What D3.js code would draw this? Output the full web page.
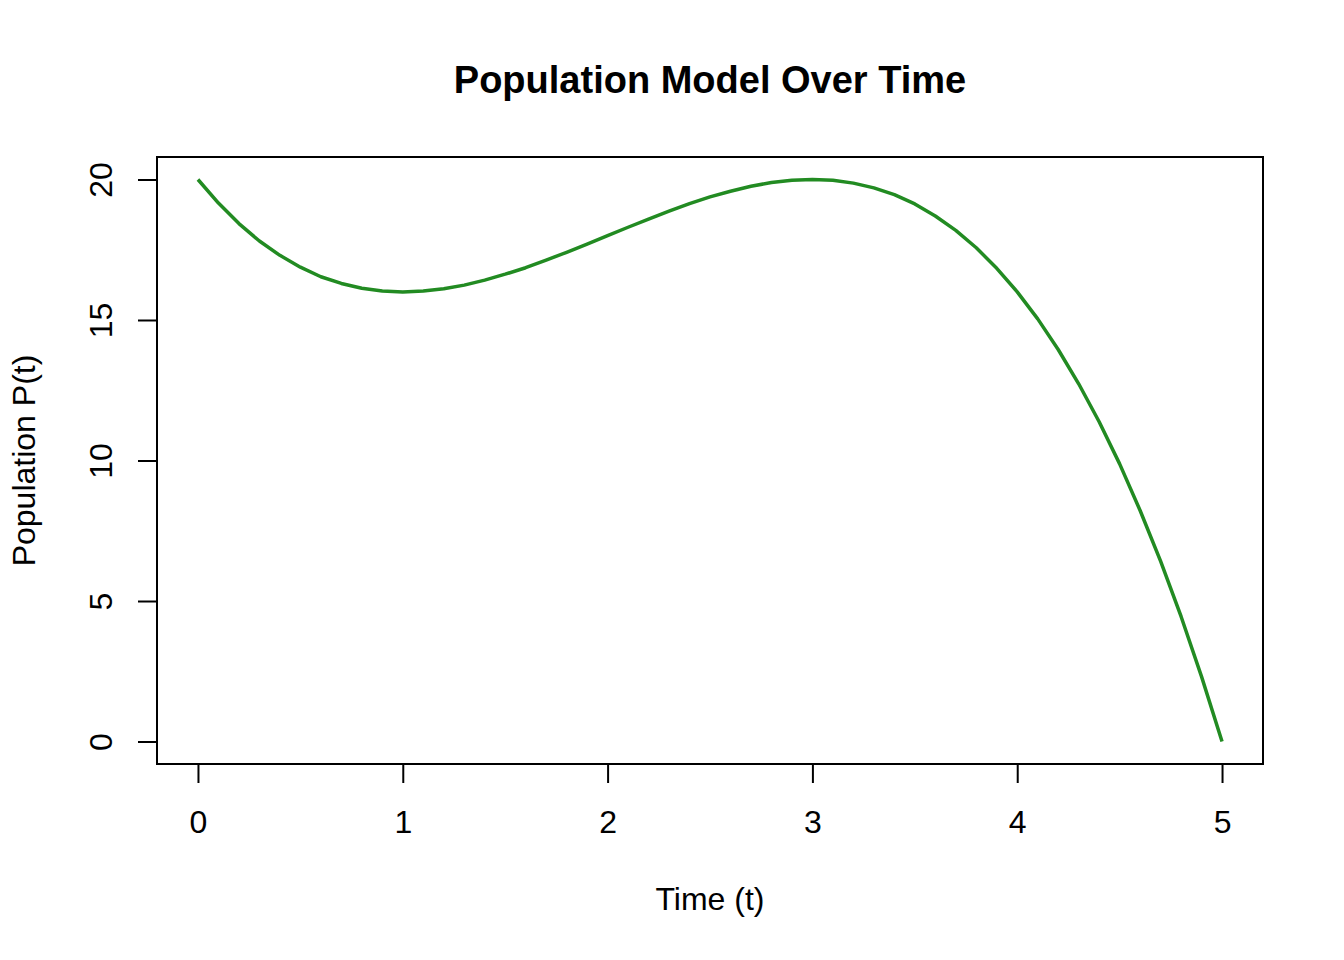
<!DOCTYPE html>
<html>
<head>
<meta charset="utf-8">
<script src="https://cdn.jsdelivr.net/npm/d3@7"></script>
<style>
  body { margin: 0; background: #fff; }
  text { font-family: "Liberation Sans", Arial, sans-serif; fill: #000; }
</style>
</head>
<body>
<div id="chart"></div>
<script>
var svgWidth = 1344;
var svgHeight = 960;

var margin = { top: 157, right: 81, bottom: 196, left: 157 };
var width = svgWidth - margin.left - margin.right;
var height = svgHeight - margin.top - margin.bottom;

// values
var timeValues = [0, 0.1, 0.2, 0.3, 0.4, 0.5, 0.6, 0.7, 0.8, 0.9,
  1, 1.1, 1.2, 1.3, 1.4, 1.5, 1.6, 1.7, 1.8, 1.9,
  2, 2.1, 2.2, 2.3, 2.4, 2.5, 2.6, 2.7, 2.8, 2.9,
  3, 3.1, 3.2, 3.3, 3.4, 3.5, 3.6, 3.7, 3.8, 3.9,
  4, 4.1, 4.2, 4.3, 4.4, 4.5, 4.6, 4.7, 4.8, 4.9, 5];
var populationValues = [20, 19.16, 18.43, 17.81, 17.30, 16.88, 16.54, 16.30, 16.13, 16.03,
  16, 16.03, 16.11, 16.24, 16.42, 16.63, 16.86, 17.13, 17.41, 17.70,
  18, 18.30, 18.59, 18.87, 19.14, 19.38, 19.58, 19.76, 19.89, 19.97,
  20, 19.97, 19.87, 19.70, 19.46, 19.13, 18.70, 18.19, 17.57, 16.84,
  16, 15.04, 13.95, 12.73, 11.38, 9.88, 8.22, 6.42, 4.45, 2.31, 0];
var xTicks = [0, 1, 2, 3, 4, 5];
var yTicks = [0, 5, 10, 15, 20];

var svg = d3.select("#chart")
  .append("svg")
  .attr("width", svgWidth)
  .attr("height", svgHeight);

var chartGroup = svg.append("g")
  .attr("transform", `translate(${margin.left}, ${margin.top})`);

// R style 4% padding on both axes
var xLinearScale = d3.scaleLinear().domain([-0.2, 5.2]).range([0, width]);
var yLinearScale = d3.scaleLinear().domain([-0.8, 20.8]).range([height, 0]);

var bottomAxis = d3.axisBottom(xLinearScale)
  .tickValues(xTicks).tickSize(19).tickPadding(10).tickFormat(d3.format("d"));
var leftAxis = d3.axisLeft(yLinearScale)
  .tickValues(yTicks).tickSize(19).tickPadding(10).tickFormat(d3.format("d"));

var xAxis = chartGroup.append("g")
  .attr("transform", `translate(0, ${height})`)
  .call(bottomAxis);
xAxis.select(".domain")
  .attr("d", `M${xLinearScale(0)},0H${xLinearScale(5)}`)
  .attr("stroke", "none");
xAxis.selectAll(".tick line").attr("stroke", "#000").attr("stroke-width", 2);
xAxis.selectAll(".tick text")
  .attr("font-size", 32)
  .attr("font-family", "Liberation Sans, Arial, sans-serif")
  .attr("dy", null)
  .attr("y", 69);

var yAxis = chartGroup.append("g")
  .call(leftAxis);
yAxis.select(".domain").attr("stroke", "none");
yAxis.selectAll(".tick line").attr("stroke", "#000").attr("stroke-width", 2);
yAxis.selectAll(".tick text")
  .attr("font-size", 32)
  .attr("font-family", "Liberation Sans, Arial, sans-serif")
  .attr("text-anchor", "middle")
  .attr("x", null)
  .attr("dy", null)
  .attr("transform", "translate(-45, 0) rotate(-90)");

// plot frame
chartGroup.append("rect")
  .attr("x", 0)
  .attr("y", 0)
  .attr("width", width)
  .attr("height", height)
  .attr("fill", "none")
  .attr("stroke", "#000")
  .attr("stroke-width", 2);

// curve
var line = d3.line()
  .x((d, i) => xLinearScale(timeValues[i]))
  .y(d => yLinearScale(d));

chartGroup.append("path")
  .datum(populationValues)
  .attr("d", line)
  .attr("fill", "none")
  .attr("stroke", "#228B22")
  .attr("stroke-width", 3.5)
  .attr("stroke-linejoin", "round");

// title and labels
svg.append("text")
  .attr("x", margin.left + width / 2)
  .attr("y", 93)
  .attr("text-anchor", "middle")
  .attr("font-size", 38)
  .attr("font-weight", "bold")
  .text("Population Model Over Time");

svg.append("text")
  .attr("x", margin.left + width / 2)
  .attr("y", 910)
  .attr("text-anchor", "middle")
  .attr("font-size", 32)
  .text("Time (t)");

svg.append("text")
  .attr("transform", `translate(35, ${margin.top + height / 2}) rotate(-90)`)
  .attr("text-anchor", "middle")
  .attr("font-size", 32)
  .text("Population P(t)");
</script>
</body>
</html>
